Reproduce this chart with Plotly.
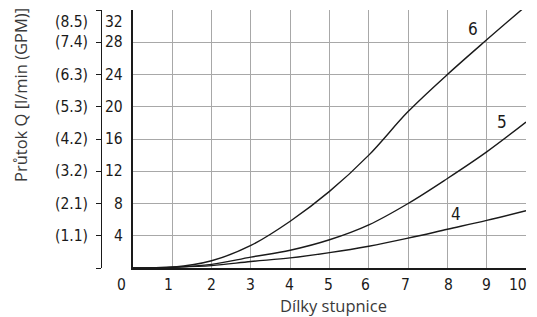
import plotly.graph_objects as go

# Data
scale_x = [0, 1, 2, 3, 4, 5, 6, 7, 8, 9, 10]
flow_4 = [0, 0.1, 0.3, 0.8, 1.25, 1.9, 2.7, 3.7, 4.8, 5.9, 7.1]
flow_5 = [0, 0.1, 0.45, 1.35, 2.2, 3.5, 5.35, 8.0, 11.1, 14.4, 18.1]
flow_6 = [0, 0.1, 0.9, 2.8, 5.8, 9.5, 14.0, 19.4, 24.0, 28.3, 32.5]
curve_names = ["4", "5", "6"]
curve_label_pos = [(8.22, 6.7), (9.39, 18.1), (8.65, 29.65)]

y_ticks = [4, 8, 12, 16, 20, 24, 28, 32]
gpm_ticks = ["(1.1)", "(2.1)", "(3.2)", "(4.2)", "(5.3)", "(6.3)", "(7.4)", "(8.5)"]
x_ticks = [0, 1, 2, 3, 4, 5, 6, 7, 8, 9, 10]
x_tick_shift = [-12, -4, 0, 0, -1, -1, -3, -3, 1, 0, -8]

tick_font = dict(family="Liberation Sans Narrow, DejaVu Sans Condensed, sans-serif", size=15.5, color="#1a1a1a")
title_font = dict(family="Open Sans, Noto Sans, sans-serif", size=16.5, color="#3a3a3a")

fig = go.Figure()
for name, ys in zip(curve_names, [flow_4, flow_5, flow_6]):
    fig.add_trace(go.Scatter(x=scale_x, y=ys, mode="lines", name=name,
                             line=dict(color="#1a1a1a", width=1.4, shape="spline", smoothing=1.0),
                             showlegend=False, hoverinfo="skip"))

ann = []
for t, sh in zip(x_ticks, x_tick_shift):
    ann.append(dict(x=t, y=0, xref="x", yref="y", text=str(t), showarrow=False,
                    xanchor="center", yanchor="middle", xshift=sh, yshift=-17, font=tick_font))
for v, g in zip(y_ticks, gpm_ticks):
    ys = -12 if v == 32 else 0
    ann.append(dict(x=0, y=v, xref="x", yref="y", text=str(v), showarrow=False,
                    xanchor="right", yanchor="middle", xshift=-8, yshift=ys, font=tick_font))
    ann.append(dict(x=0, y=v, xref="paper", yref="y", text=g, showarrow=False,
                    xanchor="right", yanchor="middle", xshift=-11, yshift=ys, font=tick_font))
for name, (lx, ly) in zip(curve_names, curve_label_pos):
    ann.append(dict(x=lx, y=ly, xref="x", yref="y", text=name, showarrow=False,
                    xanchor="center", yanchor="middle",
                    font=dict(family=tick_font["family"], size=17, color="#1a1a1a")))
ann.append(dict(x=5.09, y=0, xref="x", yref="y", text="Dílky stupnice", showarrow=False,
                xanchor="center", yanchor="middle", yshift=-37, font=title_font))
ann.append(dict(x=0, y=21.46, xref="paper", yref="y", text="Průtok Q [l/min (GPM)]", showarrow=False,
                xanchor="center", yanchor="middle", xshift=-80, textangle=-90, font=title_font))

# the page body has an 8px margin, so the figure is sized/offset to compensate
fig.update_layout(
    width=529, height=309,
    margin=dict(l=93, r=11, t=2, b=49),
    paper_bgcolor="white", plot_bgcolor="white",
    xaxis=dict(domain=[32 / 425, 1], range=[0, 10], tickvals=x_ticks[1:], showticklabels=False,
               showgrid=True, gridcolor="#a8a8a8", gridwidth=1, zeroline=False,
               showline=True, linecolor="#1a1a1a", linewidth=1.5, ticks=""),
    yaxis=dict(range=[0, 32], tickvals=y_ticks[:-1], showticklabels=False,
               showgrid=True, gridcolor="#a8a8a8", gridwidth=1, zeroline=False,
               showline=True, linecolor="#1a1a1a", linewidth=1.5, ticks=""),
    yaxis2=dict(range=[0, 32], overlaying="y", anchor="free", position=0, side="left",
                tickvals=[0] + y_ticks, showticklabels=False, showgrid=False, zeroline=False,
                showline=True, linecolor="#1a1a1a", linewidth=1.2,
                ticks="outside", ticklen=5, tickcolor="#1a1a1a", tickwidth=1.2),
    annotations=ann,
)
fig.add_trace(go.Scatter(x=[None], y=[None], yaxis="y2", showlegend=False, hoverinfo="skip"))

fig.write_html("out.html")
